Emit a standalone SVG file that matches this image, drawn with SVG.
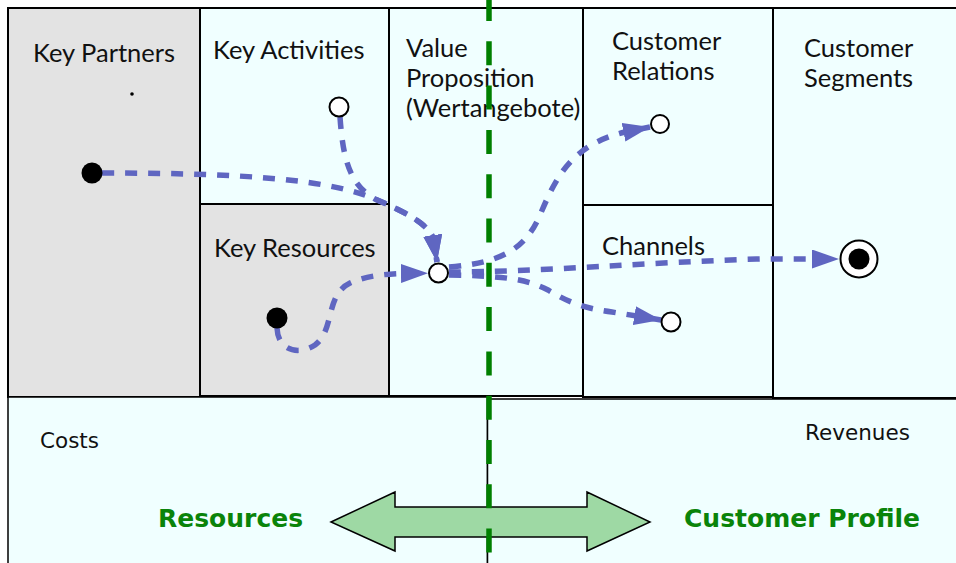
<svg xmlns="http://www.w3.org/2000/svg" width="956" height="563" viewBox="0 0 956 563">
<style>
.gray{fill:#e3e3e3;stroke:#000;stroke-width:2}
.cyan{fill:#f0ffff;stroke:#000;stroke-width:2}
.low{fill:#f0ffff;stroke:#000;stroke-width:1.5}
.lbl{font-family:Lato,"Open Sans","Liberation Sans",sans-serif;font-size:25.5px;fill:#111}
.sm{font-family:"DejaVu Sans",Verdana,sans-serif;font-size:21.5px;fill:#111}
.big{font-family:"DejaVu Sans",Verdana,sans-serif;font-weight:bold;font-size:25px;fill:#0a840a}
.con{fill:none;stroke:#5f66c1;stroke-width:5.5;stroke-dasharray:12 11}
.open{fill:#fff;stroke:#000;stroke-width:2}
.fill{fill:#000}
</style>
<defs>
<marker id="ah" viewBox="0 0 27 19" refX="27" refY="9.5" markerWidth="27" markerHeight="19" markerUnits="userSpaceOnUse" orient="auto">
<path d="M0,0 L27,9.5 L0,19 z" fill="#5f66c1"/>
</marker>
</defs>
<rect width="956" height="563" fill="#fff"/>
<g id="key-partners"><rect class="gray" x="8" y="8" width="192" height="389"/><text class="lbl" x="33" y="62">Key Partners</text></g>
<g id="key-activities"><rect class="cyan" x="200" y="8" width="189" height="196"/><text class="lbl" x="213" y="59">Key Activities</text></g>
<g id="key-resources"><rect class="gray" x="200" y="204" width="189" height="192"/><text class="lbl" x="214" y="257">Key Resources</text></g>
<g id="value-proposition"><rect class="cyan" x="389" y="8" width="194" height="388"/><text class="lbl" x="406" y="57">Value</text><text class="lbl" x="406" y="87">Proposition</text><text class="lbl" x="406" y="117">(Wertangebote)</text></g>
<g id="customer-relations"><rect class="cyan" x="583" y="8" width="190" height="197"/><text class="lbl" x="612" y="50">Customer</text><text class="lbl" x="612" y="80">Relations</text></g>
<g id="channels"><rect class="cyan" x="583" y="205" width="190" height="192"/><text class="lbl" x="602" y="255">Channels</text></g>
<g id="customer-segments"><rect class="cyan" x="773" y="8" width="190" height="390"/><text class="lbl" x="804" y="57">Customer</text><text class="lbl" x="804" y="87">Segments</text></g>
<g id="costs"><rect class="low" x="8" y="397" width="479.5" height="170"/><text class="sm" x="40" y="448">Costs</text></g>
<g id="revenues"><rect class="low" x="487.5" y="399" width="475" height="170"/><text class="sm" x="805" y="440">Revenues</text></g>
<g id="double-arrow"><path d="M331,522 L395,492 L395,507 L587,507 L587,492 L650,522 L587,551 L587,537 L395,537 L395,551 Z" fill="#9ed9a4" stroke="#000" stroke-width="1.5"/></g>
<g id="labels"><text class="big" x="158" y="527">Resources</text><text class="big" x="684" y="527">Customer Profile</text></g>
<g id="connectors">
<path class="con" d="M102,173 C250,173 330,180 375,199 C405,212 425,222 433,237 L437,262" marker-end="url(#ah)"/>
<path class="con" d="M340,117 C343,160 350,185 375,199 C405,212 425,222 433,237 L437,262" marker-end="url(#ah)"/>
<path class="con" d="M277,328 C278,352 300,355 315,345 C335,330 325,295 350,283 C365,276 385,274 402,273.5 L428,273.3" marker-end="url(#ah)"/>
<path class="con" d="M449,267 C500,263 525,250 540,215 C555,180 570,145 625,132 L650,127" marker-end="url(#ah)"/>
<path class="con" d="M449,275 C500,276 525,278 548,290 C565,300 580,308 612,312 L661,320" marker-end="url(#ah)"/>
<path class="con" d="M449,272 C540,272 650,262 760,259 L839,259" marker-end="url(#ah)"/>
</g>
<g id="node-partners"><circle class="fill" cx="92" cy="173" r="10.5"/></g>
<g id="node-dot"><circle class="fill" cx="132" cy="94" r="1.8"/></g>
<g id="node-activities"><circle class="open" cx="339" cy="107" r="9.5"/></g>
<g id="node-resources"><circle class="fill" cx="277" cy="318" r="10.5"/></g>
<g id="node-hub"><circle class="open" cx="438.5" cy="273" r="9.5"/></g>
<g id="node-relations"><circle class="open" cx="660" cy="124" r="9"/></g>
<g id="node-channels"><circle class="open" cx="671" cy="322" r="9.5"/></g>
<g id="node-segments"><circle fill="#fff" stroke="#000" stroke-width="2" cx="859" cy="259" r="18.5"/><circle class="fill" cx="859" cy="259" r="10.5"/></g>
<g id="divider"><line x1="489" y1="0" x2="489" y2="563" stroke="#008000" stroke-width="5.5" stroke-dasharray="24 20.3" stroke-dashoffset="3"/></g>
</svg>
